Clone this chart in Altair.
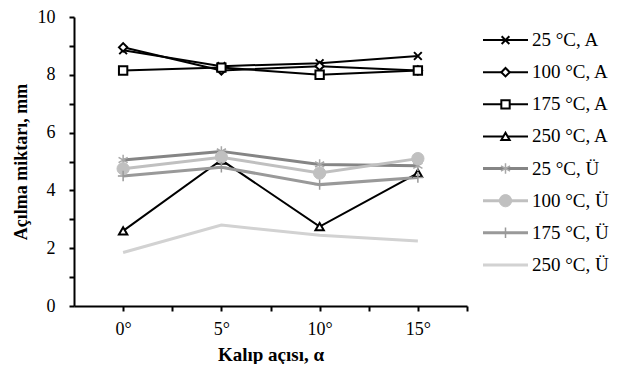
import altair as alt
import pandas as pd

angles = [0, 5, 10, 15]
series = ["25 °C, A", "100 °C, A", "175 °C, A", "250 °C, A",
          "25 °C, Ü", "100 °C, Ü", "175 °C, Ü", "250 °C, Ü"]
v25A = [8.85, 8.3, 8.4, 8.65]
v100A = [8.95, 8.15, 8.3, 8.15]
v175A = [8.15, 8.25, 8.0, 8.15]
v250A = [2.6, 5.05, 2.75, 4.6]
v25U = [5.05, 5.35, 4.9, 4.85]
v100U = [4.75, 5.15, 4.6, 5.1]
v175U = [4.5, 4.8, 4.2, 4.45]
v250U = [1.85, 2.8, 2.45, 2.25]
values = [v25A, v100A, v175A, v250A, v25U, v100U, v175U, v250U]

line_colors = ["#000000", "#000000", "#000000", "#000000",
               "#858585", "#c0c0c0", "#999999", "#d2d2d2"]
line_widths = [2, 2, 2, 2, 3, 3, 3, 3]

XPATH = "M-1,-1L1,1M-1,1L1,-1"
STAR = "M0,-1L0,1M-0.87,-0.5L0.87,0.5M-0.87,0.5L0.87,-0.5"
PLUS = "M0,-1L0,1M-1,0L1,0"
# marker styles: (shape, size, fill, stroke, strokeWidth) or None
markers = [
    (XPATH, 60, None, "#000000", 2),
    ("diamond", 70, "#ffffff", "#000000", 2),
    ("square", 70, "#ffffff", "#000000", 2),
    ("triangle-up", 70, "#ffffff", "#000000", 2),
    (STAR, 110, None, "#a8a8a8", 1.5),
    ("circle", 150, "#c0c0c0", "#c0c0c0", 1),
    (PLUS, 110, None, "#999999", 1.5),
    None,
]

rows = []
for s, vals in zip(series, values):
    for a, v in zip(angles, vals):
        rows.append({"series": s, "angle": a, "value": v})
df = pd.DataFrame(rows)
leg = pd.DataFrame({"series": series})

FONT = "Liberation Serif"

x_enc = alt.X("angle:Q",
              scale=alt.Scale(domain=[-2.5, 17.5], nice=False, zero=False),
              axis=alt.Axis(values=[0, 2.5, 5, 7.5, 10, 12.5, 15, 17.5],
                            labelExpr="datum.value % 5 == 0 ? datum.value + '°' : ''",
                            title="Kalıp açısı, α", labelPadding=9, titlePadding=7,
                            titleFontSize=19))
y_enc = alt.Y("value:Q",
              scale=alt.Scale(domain=[0, 10], nice=False),
              axis=alt.Axis(values=list(range(11)),
                            labelExpr="datum.value % 2 == 0 ? datum.label : ''",
                            title="Açılma miktarı, mm", labelPadding=14, titlePadding=7,
                            titleFontSize=18))


def point_kw(m):
    shape, size, fill, stroke, sw = m
    kw = dict(shape=shape, size=size, stroke=stroke, strokeWidth=sw, opacity=1)
    if fill is None:
        kw["filled"] = False
    else:
        kw["filled"] = True
        kw["fill"] = fill
    return kw


layers = []
for i, s in enumerate(series):
    base = alt.Chart(df).transform_filter(alt.datum.series == s)
    layers.append(base.mark_line(color=line_colors[i], strokeWidth=line_widths[i])
                  .encode(x=x_enc, y=y_enc))
for i, s in enumerate(series):
    if markers[i] is None:
        continue
    base = alt.Chart(df).transform_filter(alt.datum.series == s)
    layers.append(base.mark_point(**point_kw(markers[i])).encode(x=x_enc, y=y_enc))

main = alt.layer(*layers).properties(width=393, height=289)

ly = alt.Y("series:N", scale=alt.Scale(domain=series, range=[7, 264]), axis=None)
leg_layers = []
for i, s in enumerate(series):
    b = alt.Chart(leg).transform_filter(alt.datum.series == s)
    leg_layers.append(b.mark_rule(color=line_colors[i], strokeWidth=line_widths[i])
                      .encode(x=alt.value(5), x2=alt.value(50), y=ly))
    if markers[i] is not None:
        leg_layers.append(b.mark_point(**point_kw(markers[i])).encode(x=alt.value(27.5), y=ly))
leg_layers.append(alt.Chart(leg).mark_text(align="left", baseline="middle", font=FONT,
                                            fontSize=19, color="#000000")
                  .encode(x=alt.value(54), y=ly, text="series:N"))
legend = alt.layer(*leg_layers).properties(width=125, height=289)

chart = alt.hconcat(main, legend, spacing=10).properties(
    padding={"left": 4, "top": 0, "right": 0, "bottom": 0},
    background="#ffffff",
).configure_view(stroke=None).configure_axis(
    grid=False, domainColor="#000000", domainWidth=2, tickColor="#000000",
    tickWidth=2, tickSize=5, labelFont=FONT, labelFontSize=18, labelColor="#000000",
    titleFont=FONT, titleFontWeight="bold", titleColor="#000000",
)

chart.save("out.html", embed_options={"renderer": "svg", "actions": False})
